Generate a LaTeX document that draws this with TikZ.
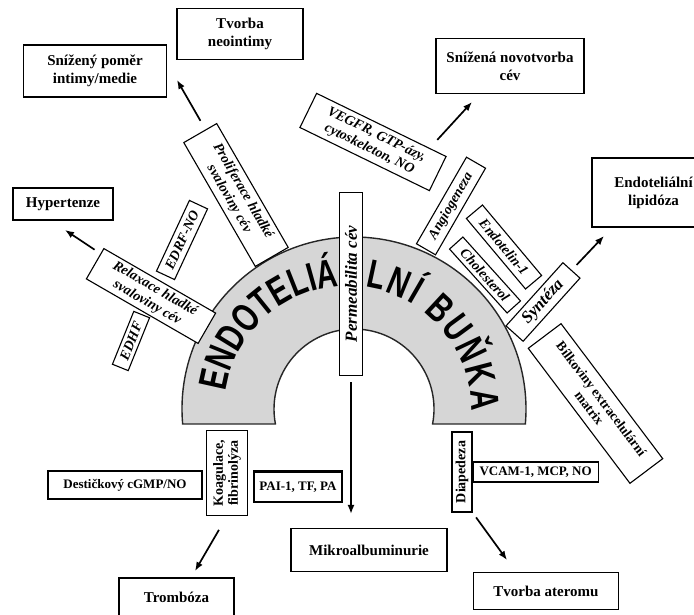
\documentclass[tikz,border=0pt]{standalone}
\usepackage{fontspec}
\setmainfont{Liberation Serif}
\newfontfamily\cellfamily[FakeStretch=0.72]{Liberation Sans}
\usetikzlibrary{positioning,arrows.meta,decorations.text}

\begin{document}
\begin{tikzpicture}[
    x=1pt,y=1pt,
    outbox/.style={draw,line width=1.1pt,align=center,inner sep=2pt,font=\bfseries\fontsize{15}{18}\selectfont},
    smallbox/.style={draw,fill=white,line width=1.1pt,inner sep=1pt,font=\bfseries\fontsize{13}{15}\selectfont},
    tagbox/.style={draw,fill=white,line width=1.1pt,align=center,inner sep=1pt,font=\bfseries\itshape\fontsize{14}{16}\selectfont},
    arr/.style={-{Latex[length=9pt,width=7pt]},line width=1.7pt},
    cellarch/.style={draw=black!85,line width=1.4pt,fill=black!16}
  ]
    \path[use as bounding box,fill=white] (0,0) rectangle (694,614);

    % endothelial cell
    \coordinate (cellc) at (354,205);
    \coordinate (textc) at (348,205);
    \draw[cellarch] ([shift={(185:172)}]cellc) arc[start angle=185,end angle=-5,radius=172]
      -- ([shift={(-10.8:80)}]cellc) arc[start angle=-10.8,end angle=190.8,radius=80] -- cycle;
    \path[decorate,decoration={text along path,text align=fit to path,
        text={|\cellfamily\bfseries\fontsize{40}{44}\selectfont|ENDOTELIÁ}}]
      ([shift={(172:123)}]textc) arc[start angle=172,end angle=94,radius=123];
    \path[decorate,decoration={text along path,text align=fit to path,
        text={|\cellfamily\bfseries\fontsize{40}{44}\selectfont|LNÍ BUŇKA}}]
      ([shift={(82:123)}]textc) arc[start angle=82,end angle=-1,radius=123];

    % outcomes
    \node[outbox,minimum width=126pt,minimum height=51pt] (neoint) at (240,580) {Tvorba\\neointimy};
    \node[outbox,minimum width=143pt,minimum height=52pt] (snizpomer) at (95,543) {Snížený poměr\\intimy/medie};
    \node[outbox,minimum width=148pt,minimum height=55pt] (novotv) at (510,548) {Snížená novotvorba\\cév};
    \node[outbox,minimum width=123pt,minimum height=69pt] (lipid) at (653.5,421.5) {Endoteliální\\lipidóza};
    \node[outbox,minimum width=100pt,minimum height=32pt] (hyper) at (63,410) {Hypertenze};
    \node[outbox,minimum width=156pt,minimum height=43pt] (mikro) at (369,64) {Mikroalbuminurie};
    \node[outbox,minimum width=115pt,minimum height=38pt] (tromb) at (176.5,17) {Trombóza};
    \node[outbox,minimum width=145pt,minimum height=37pt] (aterom) at (546,23) {Tvorba ateromu};

    % functions of the cell
    \node[tagbox,rotate=90,minimum width=183pt,minimum height=23pt,font=\bfseries\itshape\fontsize{17}{19}\selectfont] (perm) at (351,330) {Permeabilita cév};
    \node[tagbox,rotate=-60,minimum width=143pt,minimum height=38pt] (prolif) at (236,419) {Proliferace hladké\\svaloviny cév};
    \node[tagbox,rotate=65,minimum width=78pt,minimum height=20pt] (edrf) at (182,374) {EDRF-NO};
    \node[tagbox,rotate=68,minimum width=57pt,minimum height=17pt] (edhf) at (131,273) {EDHF};
    \node[tagbox,rotate=-30,minimum width=129pt,minimum height=35pt] (relax) at (151,318) {Relaxace hladké\\svaloviny cév};
    \node[tagbox,rotate=-26,minimum width=144pt,minimum height=38pt] (vegfr) at (373,472) {VEGFR, GTP-ázy,\\cytoskeleton, NO};
    \node[tagbox,rotate=60,minimum width=100pt,minimum height=22pt] (angio) at (451,408) {Angiogeneza};
    \node[tagbox,rotate=-50,minimum width=92pt,minimum height=21pt] (endotelin) at (504,367) {Endotelin-1};
    \node[tagbox,rotate=-48,minimum width=86pt,minimum height=18pt] (cholest) at (485,339) {Cholesterol};
    \node[tagbox,rotate=48,minimum width=85pt,minimum height=23pt,font=\bfseries\itshape\fontsize{17}{19}\selectfont] (synteza) at (543,312) {Syntéza};
    \node[tagbox,rotate=-53,minimum width=169pt,minimum height=41pt,font=\bfseries\fontsize{13.5}{15}\selectfont] (bilkov) at (595.5,210.5) {Bílkoviny extracelulární\\matrix};
    \node[tagbox,rotate=90,minimum width=85pt,minimum height=41pt,font=\bfseries\fontsize{14}{15}\selectfont] (koag) at (227,141) {Koagulace,\\fibrinolýza};
    \node[tagbox,rotate=90,minimum width=80pt,minimum height=20pt,font=\bfseries\fontsize{14}{15}\selectfont] (diaped) at (462,142) {Diapedeza};
    \node[smallbox,minimum width=154pt,minimum height=28pt] (desticky) at (125,129) {Destičkový cGMP/NO};
    \node[smallbox,minimum width=88pt,minimum height=30pt] (pai) at (298,127) {PAI-1, TF, PA};
    \draw[line width=2.4pt] (pai.north west) -- (pai.north east);
    \node[smallbox,minimum width=125pt,minimum height=20pt,right=0pt of diaped.south] (vcam) {VCAM-1, MCP, NO};

    % arrows
    \coordinate (snizpomer-in) at (177,534);
    \coordinate (hyper-in) at (65,384);
    \coordinate (novotv-in) at (472,512);
    \coordinate (lipid-in) at (604,378);
    \coordinate (tromb-in) at (195,43);
    \coordinate (aterom-in) at (507,54);

    \draw[arr,shorten <=10pt] (prolif.175) -- (snizpomer-in);
    \draw[arr,shorten <=7pt] (relax.170) -- (hyper-in);
    \draw[arr,shorten <=11pt] (vegfr.20) -- (novotv-in);
    \draw[arr,shorten <=7pt] (synteza.east) -- (lipid-in);
    \draw[arr,shorten <=6pt,shorten >=14pt] (perm.west) -- (perm.west |- mikro.north);
    \draw[arr,shorten <=16pt] (koag.west) -- (tromb-in);
    \draw[arr,shorten <=6pt] (diaped.south west) -- (aterom-in);
  \end{tikzpicture}
\end{document}
